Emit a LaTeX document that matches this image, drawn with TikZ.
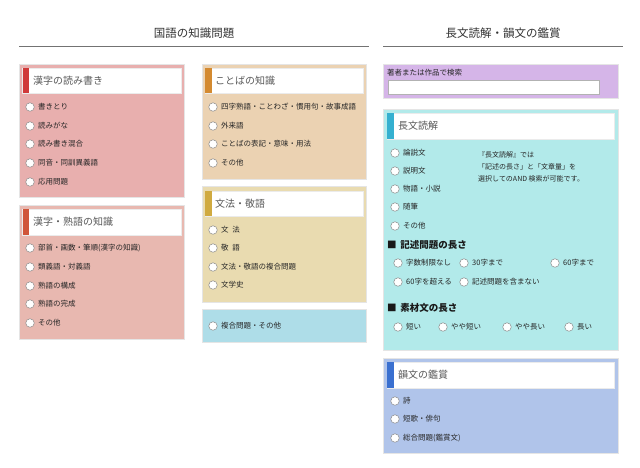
\documentclass[tikz,border=0pt]{standalone}
\usepackage{fontspec}
\setmainfont{Noto Sans CJK JP}
\definecolor{pinkA}{HTML}{E8AFAE}
\definecolor{pinkB}{HTML}{E8B8B0}
\definecolor{tanA}{HTML}{EBD2B2}
\definecolor{tanB}{HTML}{E9DBB0}
\definecolor{skyA}{HTML}{AEDDE8}
\definecolor{lilac}{HTML}{D5B5E8}
\definecolor{cyanA}{HTML}{B2EAEA}
\definecolor{blueA}{HTML}{B0C4EA}
\definecolor{barRed}{HTML}{D03A3A}
\definecolor{barOr}{HTML}{D0563A}
\definecolor{barTan}{HTML}{D48A30}
\definecolor{barGold}{HTML}{D0AA40}
\definecolor{barCyan}{HTML}{35B0D0}
\definecolor{barBlue}{HTML}{3A70D0}
\newcommand\rad[4]{\node[radio] (#1) at (#2,#3) {}; \node[itm] (#1t) at ([xshift=8pt]#1.center) {#4};}
\begin{document}
\begin{tikzpicture}[x=1pt,y=-1pt,
  panel/.style={draw=black!10, fill=#1, line width=0.8pt},
  hdr/.style={draw=black!8, fill=white, line width=0.5pt},
  radio/.style={circle, draw=black!45, fill=white, minimum size=8.5pt, inner sep=0pt, line width=0.5pt},
  itm/.style={anchor=west, inner sep=0pt, font=\fontsize{7.5}{9}\selectfont, text=black!85},
  hdrtxt/.style={anchor=west, inner sep=0pt, text=black!65, font=\fontsize{10}{12}\selectfont},
  title/.style={inner sep=0pt, font=\fontsize{11.5}{13}\selectfont, text=black!80},
  subhd/.style={anchor=west, inner sep=0pt, font=\fontsize{9.5}{11}\selectfont\bfseries, text=black!90},
  note/.style={anchor=west, inner sep=0pt, font=\fontsize{7}{8.5}\selectfont, text=black!85}]
\useasboundingbox[fill=white] (0,0) rectangle (640,467);
% titles
\node[title] (t1) at (194,33) {国語の知識問題};
\node[title] (t2) at (503,33) {長文読解・韻文の鑑賞};
\draw[black!55, line width=0.8pt] (19,46.5) -- (369,46.5);
\draw[black!55, line width=0.8pt] (383,46.5) -- (623,46.5);
% box 1
\draw[panel=pinkA] (19,64) rectangle (184,197);
\draw[hdr] (22.5,68) rectangle (181,93);
\fill[barRed] (22.5,68) rectangle (29,93);
\node[hdrtxt] (h1) at (33,80.5) {漢字の読み書き};
\rad{a1}{30}{107}{書きとり}
\rad{a2}{30}{126}{読みがな}
\rad{a3}{30}{144}{読み書き混合}
\rad{a4}{30}{163}{同音・同訓異義語}
\rad{a5}{30}{182}{応用問題}
% box 2
\draw[panel=pinkB] (19,205) rectangle (184,339);
\draw[hdr] (22.5,209) rectangle (181,235);
\fill[barOr] (22.5,209) rectangle (29,235);
\node[hdrtxt] (h2) at (33,222) {漢字・熟語の知識};
\rad{b1}{30}{248}{部首・画数・筆順(漢字の知識)}
\rad{b2}{30}{267}{類義語・対義語}
\rad{b3}{30}{286}{熟語の構成}
\rad{b4}{30}{304}{熟語の完成}
\rad{b5}{30}{323}{その他}
% box 3
\draw[panel=tanA] (202,64) rectangle (366,179);
\draw[hdr] (205,68) rectangle (363,93);
\fill[barTan] (205,68) rectangle (212,93);
\node[hdrtxt] (h3) at (215,80.5) {ことばの知識};
\rad{c1}{213}{107}{四字熟語・ことわざ・慣用句・故事成語}
\rad{c2}{213}{126}{外来語}
\rad{c3}{213}{144}{ことばの表記・意味・用法}
\rad{c4}{213}{163}{その他}
% box 4
\draw[panel=tanB] (202,186) rectangle (366,302);
\draw[hdr] (205,191) rectangle (363,216);
\fill[barGold] (205,191) rectangle (212,216);
\node[hdrtxt] (h4) at (215,203.5) {文法・敬語};
\rad{d1}{213}{230}{文\hspace{0.5em}法}
\rad{d2}{213}{248}{敬\hspace{0.5em}語}
\rad{d3}{213}{267}{文法・敬語の複合問題}
\rad{d4}{213}{285}{文学史}
% box 5
\draw[panel=skyA] (202,309) rectangle (366,342);
\rad{e1}{213}{326}{複合問題・その他}
% purple search
\draw[panel=lilac] (383,64) rectangle (618,98);
\node[note, font=\fontsize{7.5}{9}\selectfont] (s0) at (387,73) {著者または作品で検索};
\draw[fill=white, draw=black!30, line width=0.6pt] (388,80) rectangle (599,94);
% cyan box
\draw[panel=cyanA] (383,109) rectangle (618,350);
\draw[hdr] (387,113) rectangle (614,139);
\fill[barCyan] (387,113) rectangle (394,139);
\node[hdrtxt] (h5) at (398,126) {長文読解};
\rad{f1}{395}{153}{論説文}
\rad{f2}{395}{171}{説明文}
\rad{f3}{395}{189}{物語・小説}
\rad{f4}{395}{207}{随筆}
\rad{f5}{395}{226}{その他}
\node[note] (n1) at (478,155) {『長文読解』では};
\node[note] (n2) at (478,167) {「記述の長さ」と「文章量」を};
\node[note] (n3) at (478,179) {選択してのAND 検索が可能です。};
\node[subhd] (g1) at (387,245) {■\hspace{0.4em}記述問題の長さ};
\rad{k1}{398}{263}{字数制限なし}
\rad{k2}{464}{263}{30字まで}
\rad{k3}{555}{263}{60字まで}
\rad{k4}{398}{282}{60字を超える}
\rad{k5}{464}{282}{記述問題を含まない}
\node[subhd] (g2) at (387,308) {■\hspace{0.4em}素材文の長さ};
\rad{m1}{398}{327}{短い}
\rad{m2}{443}{327}{やや短い}
\rad{m3}{507}{327}{やや長い}
\rad{m4}{569}{327}{長い}
% blue box
\draw[panel=blueA] (383,358) rectangle (618,453);
\draw[hdr] (387,362) rectangle (614,388);
\fill[barBlue] (387,362) rectangle (394,388);
\node[hdrtxt] (h6) at (398,375) {韻文の鑑賞};
\rad{p1}{395}{401}{詩}
\rad{p2}{395}{419}{短歌・俳句}
\rad{p3}{395}{438}{総合問題(鑑賞文)}
\end{tikzpicture}
\end{document}
